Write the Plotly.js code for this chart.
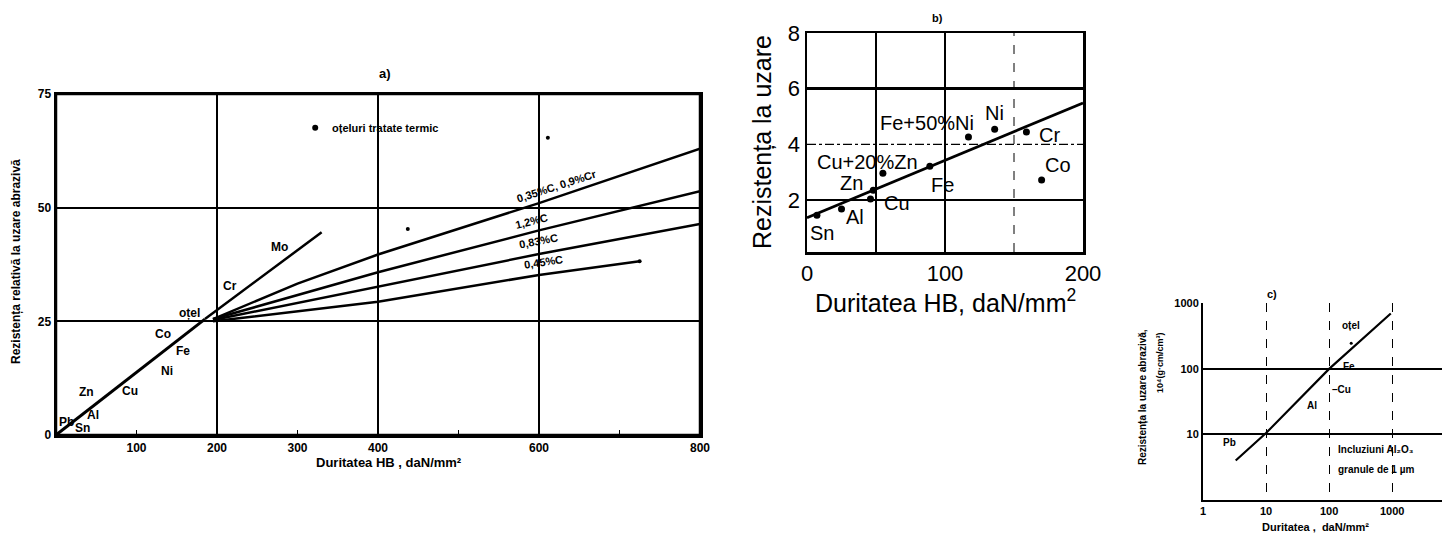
<!DOCTYPE html>
<html><head><meta charset="utf-8">
<script src="https://cdn.plot.ly/plotly-3.0.1.min.js"></script>
<style>html,body{margin:0;padding:0;background:#fff}</style>
</head><body><div id="chart" style="width:1442px;height:537px"></div>
<script>
// ---------- Panel a) data ----------
const mainA_x = [0, 185];          const mainA_y = [0, 25.5];
const moA_x   = [185, 330];        const moA_y   = [25.5, 44.6];
const c035_x  = [195, 300, 400, 600, 800]; const c035_y = [25.5, 33.3, 39.7, 51, 63];
const c12_x   = [195, 400, 600, 800];      const c12_y  = [25.5, 35.8, 45, 53.6];
const c083_x  = [195, 400, 600, 800];      const c083_y = [25.3, 32.6, 39.8, 46.4];
const c045_x  = [195, 400, 600, 725];      const c045_y = [25, 29.3, 35.2, 38.2];
const dotsA_x = [437, 611, 725];   const dotsA_y = [45.3, 65.4, 38.2];
const legendA_x = [322];           const legendA_y = [67.6];
const legendA_text = 'oțeluri tratate termic';
const labelsA_text = ['Pb','Sn','Al','Zn','Cu','Ni','Co','Fe','oțel','Cr','Mo'];
const labelsA_x = [13, 33, 46, 38, 92, 138, 133, 158, 166, 216, 278];
const labelsA_y = [2.9, 1.6, 4.5, 9.4, 9.6, 14, 22.3, 18.5, 26.8, 32.8, 41.3];
const curveLabelsA_text = ['0,35%C, 0,9%Cr','1,2%C','0,83%C','0,45%C'];
const curveLabelsA_x = [622, 591, 599, 605];
const curveLabelsA_y = [54.8, 47.0, 42.6, 38.0];
const curveLabelsA_angle = [-18, -14, -11, -8.5];
const tickA_x = [100, 200, 300, 400, 500, 600, 700, 800];
const tickA_xText = ['100','200','300','400','','600','','800'];
const gridA_x = [200, 400, 600];
const tickA_y = [0, 25, 50, 75];

// ---------- Panel b) data ----------
const pointsB_name = ['Sn','Al','Cu','Zn','Cu+20%Zn','Fe','Fe+50%Ni','Ni','Cr','Co'];
const pointsB_x = [7.2, 25, 46, 48, 55, 89, 117, 136, 159, 170];
const pointsB_y = [1.46, 1.68, 2.04, 2.36, 2.97, 3.22, 4.27, 4.55, 4.45, 2.72];
const lineB_x = [0, 200];          const lineB_y = [1.37, 5.49];
const labelsB_text = ['Sn','Al','Cu','Zn','Cu+20%Zn','Fe','Fe+50%Ni','Ni','Cr','Co'];
const labelsB_x = [10.9, 35, 65, 32.6, 44, 98, 87, 136, 176, 182];
const labelsB_y = [0.81, 1.39, 1.89, 2.61, 3.37, 2.54, 4.77, 5.13, 4.34, 3.26];
const tickB_x = [0, 100, 200];     const tickB_y = [2, 4, 6, 8];
const gridB_solidX = [50, 100];    const gridB_dashX = [150];
const gridB_solidY = [2, 6];       const gridB_dashY = [4];

// ---------- Panel c) data ----------
const lineC_x = [3.3, 10, 100, 950];   const lineC_y = [4, 10.5, 100, 700];
const dotC_x = [224];                  const dotC_y = [245];
const labelsC_text = ['Pb','Al','–Cu','Fe','oțel'];
const labelsC_x = [2.6, 54, 155, 209, 224];
const labelsC_y = [7.6, 28, 48, 107, 464];
const noteC_text = ['Incluziuni Al₂O₃', 'granule de 1 µm'];
const noteC_x = [129, 129];            const noteC_y = [5.9, 2.95];
const tickC_x = [1, 10, 100, 1000];    const tickC_y = [10, 100, 1000];

// ---------- layout helpers ----------
const W = 1442, H = 537;
const PX = x => x / W, PY = y => (H - y) / H;
const BLK = '#000';
const FAM = 'Liberation Sans, DejaVu Sans, Arial, sans-serif';
const fA = {family:FAM, size:12, color:BLK, weight:'bold'};
const fB = {family:FAM, size:22, color:BLK};
const fC = {family:FAM, size:11, color:BLK, weight:'bold'};

const lineStyle = w => ({color:BLK, width:w});
const traces = [
  {x:mainA_x, y:mainA_y, mode:'lines', line:lineStyle(3), xaxis:'x', yaxis:'y'},
  {x:moA_x, y:moA_y, mode:'lines', line:lineStyle(2.5), xaxis:'x', yaxis:'y'},
  {x:c035_x, y:c035_y, mode:'lines', line:lineStyle(2.5), xaxis:'x', yaxis:'y'},
  {x:c12_x, y:c12_y, mode:'lines', line:lineStyle(2.5), xaxis:'x', yaxis:'y'},
  {x:c083_x, y:c083_y, mode:'lines', line:lineStyle(2.5), xaxis:'x', yaxis:'y'},
  {x:c045_x, y:c045_y, mode:'lines', line:lineStyle(2.5), xaxis:'x', yaxis:'y'},
  {x:dotsA_x, y:dotsA_y, mode:'markers', marker:{color:BLK, size:4}, xaxis:'x', yaxis:'y'},
  {x:legendA_x, y:legendA_y, mode:'markers', marker:{color:BLK, size:6}, xaxis:'x', yaxis:'y'},
  {x:lineB_x, y:lineB_y, mode:'lines', line:lineStyle(2.8), xaxis:'x2', yaxis:'y2'},
  {x:pointsB_x, y:pointsB_y, text:pointsB_name, mode:'markers', marker:{color:BLK, size:7}, xaxis:'x2', yaxis:'y2'},
  {x:lineC_x, y:lineC_y, mode:'lines', line:lineStyle(2.2), xaxis:'x3', yaxis:'y3'},
  {x:dotC_x, y:dotC_y, mode:'markers', marker:{color:BLK, size:3}, xaxis:'x3', yaxis:'y3'}
];

const ann = [];
const da = (x, y, xr, yr, text, font, extra={}) => ann.push(Object.assign({x, y, xref:xr, yref:yr, text, showarrow:false, xanchor:'center', yanchor:'middle', font}, extra));
labelsA_text.forEach((t,i)=>da(labelsA_x[i], labelsA_y[i], 'x', 'y', t, {...fA, size:12}));
curveLabelsA_text.forEach((t,i)=>da(curveLabelsA_x[i], curveLabelsA_y[i], 'x', 'y', t, {...fA, size:11}, {textangle:curveLabelsA_angle[i]}));
da(legendA_x[0]+18, legendA_y[0], 'x', 'y', legendA_text, {...fA, size:11}, {xanchor:'left'});
labelsB_text.forEach((t,i)=>da(labelsB_x[i], labelsB_y[i], 'x2', 'y2', t, {...fB, size:20}));
labelsC_text.forEach((t,i)=>da(Math.log10(labelsC_x[i]), Math.log10(labelsC_y[i]), 'x3', 'y3', t, {...fC, size:10}));
noteC_text.forEach((t,i)=>da(Math.log10(noteC_x[i]), Math.log10(noteC_y[i]), 'x3', 'y3', t, {...fC, size:10}, {xanchor:'left'}));

// panel titles and axis titles (paper-positioned text)
const pa = (x,y,text,font,extra={}) => da(PX(x), PY(y), 'paper', 'paper', text, font, extra);
pa(385, 74, 'a)', {...fA, size:13});
pa(937, 18, 'b)', {...fA, size:11});
pa(1272, 294, 'c)', {...fC, size:11});
pa(389, 462, 'Duritatea HB , daN/mm²', {...fA, size:13});
pa(16, 262, 'Rezistența relativă la uzare abrazivă', {...fA, size:12}, {textangle:-90});
pa(945, 301, 'Duritatea HB, daN/mm<sup>2</sup>', {...fB, size:25});
pa(762, 142, 'Rezistența la uzare', {...fB, size:25}, {textangle:-90});
pa(1315, 527, 'Duritatea ,  daN/mm²', {...fC, size:11});
pa(1142, 397, 'Rezistența la uzare abrazivă,', {...fC, size:10}, {textangle:-90});
pa(1160, 363, '10⁴(g·cm/cm³)', {...fC, size:9}, {textangle:-90});

const shapes = [
  {type:'rect', xref:'x domain', yref:'y domain', x0:0, x1:1, y0:0, y1:1, line:{color:BLK, width:2.5}, layer:'above'}
];
gridB_dashX.forEach(v=>shapes.push({type:'line', xref:'x2', yref:'y2 domain', x0:v, x1:v, y0:0, y1:1, line:{color:BLK, width:1, dash:'dash'}}));
gridB_dashY.forEach(v=>shapes.push({type:'line', xref:'x2 domain', yref:'y2', x0:0, x1:1, y0:v, y1:v, line:{color:BLK, width:1.2, dash:'dashdot'}}));

const layout = {
  width:W, height:H, margin:{l:0, r:0, t:0, b:0}, showlegend:false,
  paper_bgcolor:'#fff', plot_bgcolor:'#fff',
  xaxis:{domain:[PX(56), PX(700)], range:[0,800], anchor:'y', showline:true, mirror:true, linecolor:BLK, linewidth:2.5,
    tickmode:'array', tickvals:tickA_x, ticktext:tickA_xText, ticks:'inside', ticklen:5, tickwidth:1.5, tickcolor:BLK,
    showgrid:false, zeroline:false, tickfont:fA,
    minor:{tickmode:'array', tickvals:gridA_x, showgrid:true, gridcolor:BLK, gridwidth:1.2, ticks:''}},
  yaxis:{domain:[PY(435), PY(94)], range:[0,75], anchor:'x', showline:true, mirror:true, linecolor:BLK, linewidth:2.5,
    tickmode:'array', tickvals:tickA_y, ticks:'', showgrid:true, gridcolor:BLK, gridwidth:2, zeroline:false, tickfont:fA},
  xaxis2:{domain:[PX(807), PX(1083)], range:[0,200], anchor:'y2', showline:true, mirror:true, linecolor:BLK, linewidth:2.5,
    tickmode:'array', tickvals:tickB_x, ticks:'', showgrid:false, zeroline:false, tickfont:fB,
    minor:{tickmode:'array', tickvals:gridB_solidX, showgrid:true, gridcolor:BLK, gridwidth:1.8, ticks:''}},
  yaxis2:{domain:[PY(252), PY(33)], range:[0.14,8], anchor:'x2', showline:true, mirror:true, linecolor:BLK, linewidth:2.5,
    tickmode:'array', tickvals:tickB_y, ticks:'', showgrid:false, zeroline:false, tickfont:fB,
    minor:{tickmode:'array', tickvals:gridB_solidY, showgrid:true, gridcolor:BLK, gridwidth:2.5, ticks:''}},
  xaxis3:{type:'log', domain:[PX(1203), 1], range:[0,3.79], anchor:'y3', showline:true, mirror:false, linecolor:BLK, linewidth:2,
    tickmode:'array', tickvals:tickC_x, ticktext:tickC_x.map(String), ticks:'', showgrid:true, griddash:'dash', gridcolor:BLK, gridwidth:1,
    zeroline:false, tickfont:fC},
  yaxis3:{type:'log', domain:[PY(500), PY(303)], range:[0,3.005], anchor:'x3', showline:true, mirror:false, linecolor:BLK, linewidth:2,
    tickmode:'array', tickvals:tickC_y, ticktext:tickC_y.map(String), ticks:'', showgrid:true, gridcolor:BLK, gridwidth:2,
    zeroline:false, tickfont:fC},
  annotations:ann, shapes:shapes
};
Plotly.newPlot('chart', traces, layout, {staticPlot:true, displayModeBar:false});
</script></body></html>
